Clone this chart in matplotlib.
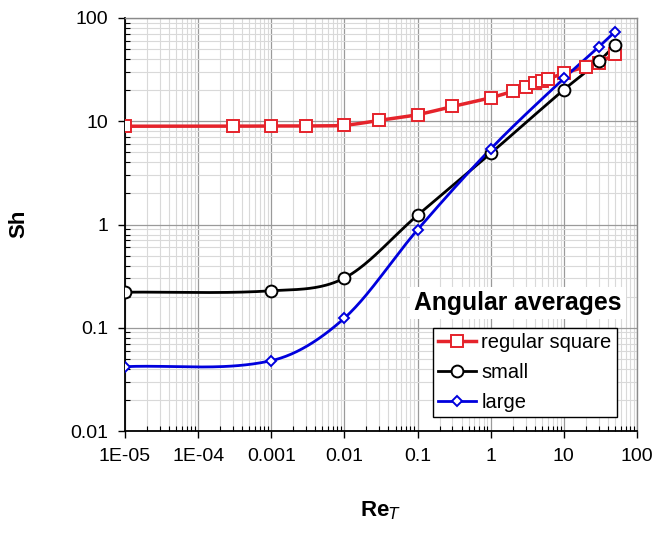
import numpy as np
import matplotlib
matplotlib.use("Agg")
import matplotlib.pyplot as plt
from matplotlib.ticker import FixedLocator, LogLocator, NullFormatter


re_square = [1e-5, 3e-4, 1e-3, 3e-3, 1e-2, 3e-2, 0.1, 0.3, 1, 2, 3, 4, 5, 6, 10, 20, 30, 50]
sh_square = [8.95, 8.95, 9.0, 9.0, 9.15, 10.2, 11.6, 13.9, 16.9, 19.5, 21.4, 23.3, 24.5, 25.7, 29.1, 33.8, 36.8, 44.8]

re_small = [1e-5, 1e-3, 1e-2, 0.1, 1, 10, 30, 50]
sh_small = [0.221, 0.228, 0.303, 1.23, 4.9, 20.2, 38.0, 54.5]

re_large = [1e-5, 1e-3, 1e-2, 0.1, 1, 10, 30, 50]
sh_large = [0.042, 0.048, 0.124, 0.89, 5.4, 26.0, 52.5, 73.5]

x_ticks = [1e-5, 1e-4, 1e-3, 1e-2, 1e-1, 1, 10, 100]
x_tick_labels = ["1E-05", "1E-04", "0.001", "0.01", "0.1", "1", "10", "100"]
y_ticks = [0.01, 0.1, 1, 10, 100]
y_tick_labels = ["0.01", "0.1", "1", "10", "100"]

series_labels = ["regular square", "small", "large"]

plt.rcParams["font.family"] = ["Liberation Sans", "DejaVu Sans"]


def smooth_curve(xs, ys, n=40):
    # cubic Hermite through the points in log-log space
    lx = np.log10(xs)
    ly = np.log10(ys)
    m = np.zeros_like(lx)
    m[1:-1] = (ly[2:] - ly[:-2]) / (lx[2:] - lx[:-2])
    m[0] = (ly[1] - ly[0]) / (lx[1] - lx[0])
    m[-1] = (ly[-1] - ly[-2]) / (lx[-1] - lx[-2])
    px, py = [], []
    for i in range(len(lx) - 1):
        h = lx[i + 1] - lx[i]
        t = np.linspace(0, 1, n, endpoint=(i == len(lx) - 2))
        h00 = 2 * t**3 - 3 * t**2 + 1
        h10 = t**3 - 2 * t**2 + t
        h01 = -2 * t**3 + 3 * t**2
        h11 = t**3 - t**2
        px.append(lx[i] + t * h)
        py.append(h00 * ly[i] + h10 * h * m[i] + h01 * ly[i + 1] + h11 * h * m[i + 1])
    return 10 ** np.concatenate(px), 10 ** np.concatenate(py)


W, H = 655, 533
fig = plt.figure(figsize=(W / 100, H / 100), dpi=100)
ax = fig.add_axes([125 / W, 1 - 431 / H, 512 / W, 413 / H])
ax.set_xscale("log")
ax.set_yscale("log")
ax.set_xlim(1e-5, 100)
ax.set_ylim(0.01, 100)

styles = [
    (re_square, sh_square, "#e5232b", "s", 8.0, 2.5),
    (re_small, sh_small, "black", "o", 8.5, 2.0),
    (re_large, sh_large, "#0000dd", "D", 5.5, 2.0),
]
handles = []
for (xs, ys, color, marker, ms, lw), label in zip(styles, series_labels):
    cx, cy = smooth_curve(np.array(xs, float), np.array(ys, float))
    ax.plot(cx, cy, color=color, lw=lw, zorder=3, solid_capstyle="round")
    ax.plot(xs, ys, ls="none", marker=marker, ms=ms, mfc="white",
            mec=color, mew=1.4, zorder=4)
    h, = ax.plot([], [], color=color, lw=lw, marker=marker, ms=ms,
                 mfc="white", mec=color, mew=1.4, label=label)
    handles.append(h)

# ticks and grid
ax.xaxis.set_major_locator(FixedLocator(x_ticks))
ax.yaxis.set_major_locator(FixedLocator(y_ticks))
ax.xaxis.set_minor_locator(LogLocator(base=10, subs=np.arange(2, 10), numticks=20))
ax.yaxis.set_minor_locator(LogLocator(base=10, subs=np.arange(2, 10), numticks=20))
ax.xaxis.set_minor_formatter(NullFormatter())
ax.yaxis.set_minor_formatter(NullFormatter())
ax.set_xticklabels(x_tick_labels)
ax.set_yticklabels(y_tick_labels)
ax.grid(which="major", color="#9a9a9a", lw=0.9, zorder=0)
ax.grid(which="minor", color="#d9d9d9", lw=0.8, zorder=0)
ax.set_axisbelow(True)

ax.tick_params(which="major", direction="out", length=5, width=1.0,
               labelsize=14, pad=7, color="black")
ax.tick_params(which="minor", direction="in", length=3.5, width=0.8, color="black")
ax.tick_params(axis="x", which="both", top=False)
ax.tick_params(axis="y", which="both", right=False)

for side in ["left", "bottom"]:
    ax.spines[side].set_color("black")
    ax.spines[side].set_linewidth(1.3)
for side in ["top", "right"]:
    ax.spines[side].set_color("#8a8a8a")
    ax.spines[side].set_linewidth(1.0)

fig.text(19 / W, 1 - 224 / H, "Sh", rotation=90, fontsize=16,
         fontweight="bold", ha="center", va="center")
fig.text(381 / W, 1 - 511 / H, "Re$_\\mathbf{\\mathit{T}}$", fontsize=16,
         fontweight="bold", ha="center", va="center")

ax.text((414 - 125) / 512, (431 - 303) / 413, "Angular averages",
        transform=ax.transAxes, fontsize=17.8, fontweight="bold", va="center",
        ha="left", zorder=6,
        bbox=dict(facecolor="white", edgecolor="none", pad=3))

leg = ax.legend(handles=handles, loc="lower left",
                bbox_to_anchor=((433 - 125) / 512, (431 - 417) / 413),
                borderaxespad=0, fontsize=14.5, frameon=True, fancybox=False,
                edgecolor="black", framealpha=1, handlelength=1.9,
                handletextpad=0.25, labelspacing=0.55, borderpad=0.25)
leg.get_frame().set_linewidth(1.0)
leg.set_zorder(6)

fig.savefig("out.png", dpi=100)
